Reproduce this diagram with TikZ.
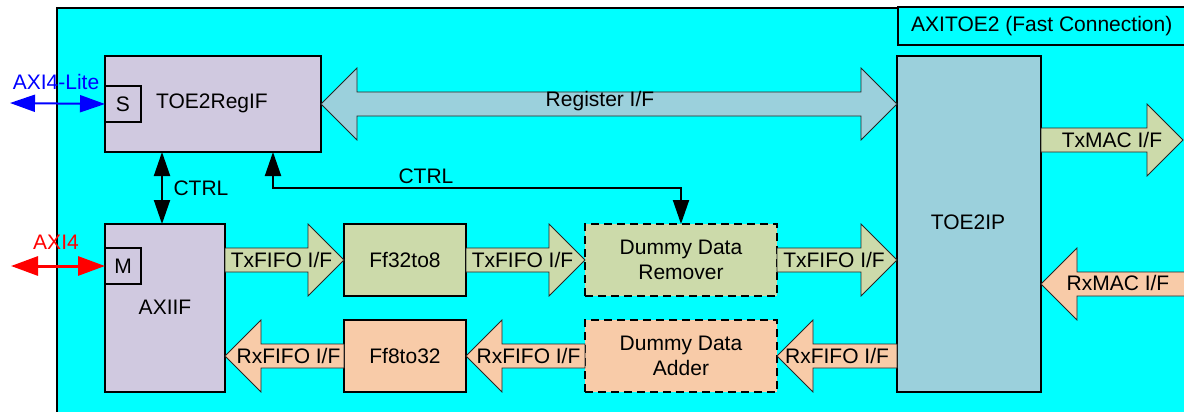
\documentclass[tikz,border=0pt]{standalone}
\usepackage{fontspec}
\setmainfont{Liberation Sans}
\usetikzlibrary{arrows.meta,calc}
\definecolor{bgcyan}{HTML}{00FFFF}
\definecolor{lav}{HTML}{D0C9E0}
\definecolor{toeblue}{HTML}{9BD0DC}
\definecolor{pgreen}{HTML}{CCDAAA}
\definecolor{porange}{HTML}{F8CBA8}
\newcommand{\rfat}[3]{\draw[fatline,fill=#3] let \p1=(#1), \p2=(#2) in
  (\x1,\y1+12pt) -- (\x2-36pt,\y1+12pt) -- (\x2-36pt,\y1+36pt) -- (\x2,\y1)
  -- (\x2-36pt,\y1-36pt) -- (\x2-36pt,\y1-12pt) -- (\x1,\y1-12pt) -- cycle;}
\newcommand{\lfat}[3]{\draw[fatline,fill=#3] let \p1=(#1), \p2=(#2) in
  (\x1,\y1+12pt) -- (\x2+36pt,\y1+12pt) -- (\x2+36pt,\y1+36pt) -- (\x2,\y1)
  -- (\x2+36pt,\y1-36pt) -- (\x2+36pt,\y1-12pt) -- (\x1,\y1-12pt) -- cycle;}
\begin{document}
\begin{tikzpicture}[x=1pt,y=-1pt,
  font=\fontsize{21}{25}\selectfont,
  box/.style={draw=black,line width=2pt,outer sep=0pt,inner sep=0pt,anchor=north west},
  dbox/.style={box,dash pattern=on 8pt off 5pt},
  fatline/.style={draw=black!85,line width=0.8pt},
  lbl/.style={inner sep=0pt},
  ctrlarrow/.style={draw=black,line width=2pt,{Triangle[length=24pt,width=16pt]}-{Triangle[length=24pt,width=16pt]}}
]
\useasboundingbox (0,0) rectangle (1184,412);
\clip (0,0) rectangle (1184,412);
\fill[white] (0,0) rectangle (1184,412);

% outer block
\node[box,fill=bgcyan,minimum width=1200pt,minimum height=420pt] (axitoe) at (57,8) {};
\node[draw=black,line width=1.5pt,fill=bgcyan,anchor=west,minimum width=288pt,minimum height=38pt,inner sep=0pt] (title) at (897,26) {AXITOE2 (Fast Connection)};

% boxes
\node[box,fill=lav,minimum width=216pt,minimum height=96pt] (regif) at (105,56) {};
\node[lbl] (regiftxt) at (212,103) {TOE2RegIF};
\node[box,fill=lav,minimum width=36pt,minimum height=36pt] (sbox) at (105,86) {};
\node[lbl] (stxt) at (sbox.center) {S};

\node[box,fill=lav,minimum width=120pt,minimum height=168pt] (axiif) at (105,224) {};
\node[lbl] (axiiftxt) at (165,307) {AXIIF};
\node[box,fill=lav,minimum width=36pt,minimum height=36pt] (mbox) at (105,248) {};
\node[lbl] (mtxt) at (mbox.center) {M};

\node[box,fill=pgreen,minimum width=122pt,minimum height=72pt] (ff32) at (344,224) {};
\node[lbl] (ff32txt) at (ff32.center) {Ff32to8};
\node[dbox,fill=pgreen,minimum width=192pt,minimum height=72pt] (remover) at (585,224) {};
\node[lbl,align=center] (removertxt) at (remover.center) {Dummy Data\\Remover};

\node[box,fill=porange,minimum width=122pt,minimum height=72pt] (ff8) at (344,320) {};
\node[lbl] (ff8txt) at (ff8.center) {Ff8to32};
\node[dbox,fill=porange,minimum width=192pt,minimum height=72pt] (adder) at (585,320) {};
\node[lbl,align=center] (addertxt) at (adder.center) {Dummy Data\\Adder};

\node[box,fill=toeblue,minimum width=144pt,minimum height=336pt] (toe2ip) at (897,56) {};
\node[lbl] (toe2iptxt) at (968,222) {TOE2IP};

% register I/F double block arrow
\draw[fatline,fill=toeblue] let \p1=(regif.east), \p2=(regif.east -| toe2ip.west) in
  (\x1,\y1) -- (\x1+36pt,\y1+36pt) -- (\x1+36pt,\y1+12pt) -- (\x2-36pt,\y1+12pt)
  -- (\x2-36pt,\y1+36pt) -- (\x2,\y1) -- (\x2-36pt,\y1-36pt) -- (\x2-36pt,\y1-12pt)
  -- (\x1+36pt,\y1-12pt) -- (\x1+36pt,\y1-36pt) -- cycle;
\node[lbl] (reglbl) at (600,101) {Register I/F};

% Tx path
\rfat{axiif.east |- ff32.west}{ff32.west}{pgreen}
\node[lbl] (tx1) at ($(axiif.east |- ff32.west)!0.5!(ff32.west)+(-3,0)$) {TxFIFO I/F};
\rfat{ff32.east}{remover.west}{pgreen}
\node[lbl] (tx2) at ($(ff32.east)!0.5!(remover.west)+(-3,0)$) {TxFIFO I/F};
\rfat{remover.east}{toe2ip.west |- remover.east}{pgreen}
\node[lbl] (tx3) at ($(remover.east)!0.5!(toe2ip.west |- remover.east)+(-3,0)$) {TxFIFO I/F};

% Rx path
\lfat{toe2ip.west |- adder.east}{adder.east}{porange}
\node[lbl] (rx3) at ($(toe2ip.west |- adder.east)!0.5!(adder.east)$) {RxFIFO I/F};
\lfat{adder.west}{ff8.east}{porange}
\node[lbl] (rx2) at ($(adder.west)!0.5!(ff8.east)+(3,0)$) {RxFIFO I/F};
\lfat{ff8.west}{axiif.east |- ff8.west}{porange}
\node[lbl] (rx1) at ($(ff8.west)!0.5!(axiif.east |- ff8.west)+(4,0)$) {RxFIFO I/F};

% MAC interfaces
\coordinate (txmacend) at (1183,140);
\rfat{toe2ip.east |- txmacend}{txmacend}{pgreen}
\node[lbl] (txmac) at (1112,140) {TxMAC I/F};
\coordinate (rxmacstart) at (1200,284);
\lfat{rxmacstart}{toe2ip.east |- rxmacstart}{porange}
\node[lbl] (rxmac) at (1118,283) {RxMAC I/F};

% CTRL arrows
\draw[ctrlarrow] ([xshift=-3pt]regif.south -| axiif.north) -- ([xshift=-3pt]axiif.north);
\node[lbl] (ctrl1) at (201,188) {CTRL};
\draw[ctrlarrow] ([xshift=60pt]regif.south) -- ++(0,36) -| (remover.north);
\node[lbl] (ctrl2) at (426,176) {CTRL};

% external ports
\coordinate (axilite) at (10,103);
\draw[blue,line width=2pt,{Triangle[length=25pt,width=17pt]}-{Triangle[length=25pt,width=17pt]}] (axilite) -- (sbox.west);
\node[lbl,text=blue] (axilitelbl) at (56,82) {AXI4-Lite};
\coordinate (axi4) at (11,266);
\draw[red,line width=3pt,{Triangle[length=27pt,width=19pt]}-{Triangle[length=27pt,width=19pt]}] (axi4) -- (mbox.west);
\node[lbl,text=red] (axi4lbl) at (56,242) {AXI4};
\end{tikzpicture}
\end{document}
